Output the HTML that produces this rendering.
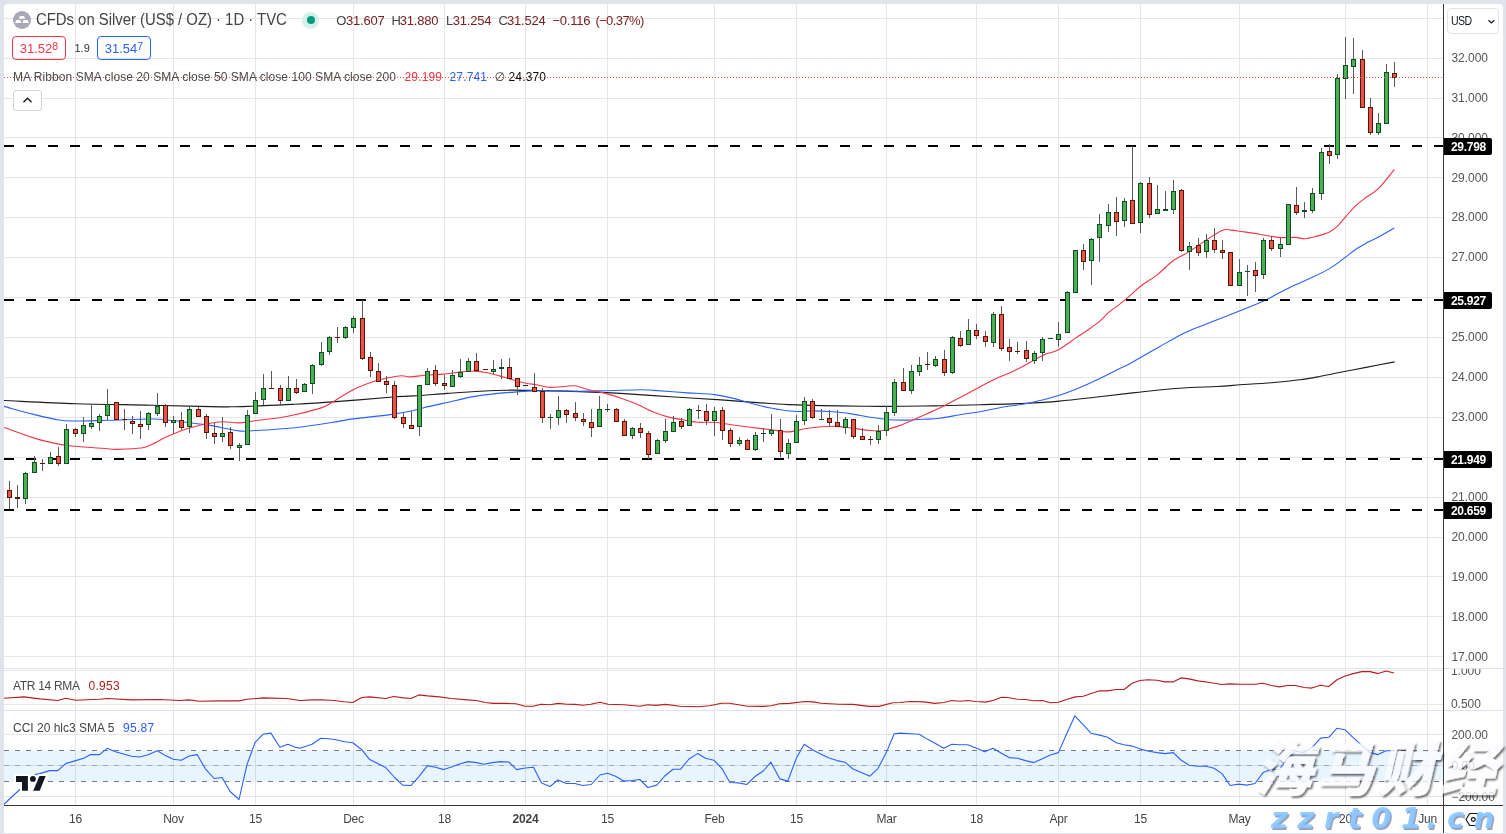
<!DOCTYPE html>
<html lang="en">
<head>
<meta charset="utf-8">
<title>CFDs on Silver (US$ / OZ) · 1D · TVC</title>
<style>
html,body{margin:0;padding:0;}
body{width:1506px;height:834px;background:#e0e3eb;position:relative;overflow:hidden;font-family:"Liberation Sans","DejaVu Sans",sans-serif;color:#333;}
#panel{position:absolute;left:4px;top:4px;width:1499px;height:829px;background:#fff;border-radius:4px 4px 0 0;}
#chart{position:absolute;left:0;top:0;width:1506px;height:834px;}
.t{position:absolute;white-space:nowrap;line-height:1;color:#444;}
.ax{position:absolute;left:1451.5px;font-size:12px;color:#555;white-space:nowrap;line-height:12px;letter-spacing:-0.05px;}
.lv{position:absolute;left:1444px;width:48px;height:17px;background:#000;color:#fff;font-weight:bold;font-size:12px;line-height:18.6px;border-radius:0 2px 2px 0;overflow:hidden;box-sizing:border-box;padding-left:7px;letter-spacing:-0.3px;white-space:nowrap;}
.tm{position:absolute;top:812px;font-size:12px;color:#444;white-space:nowrap;line-height:14px;transform:translateX(-50%);letter-spacing:-0.2px;}
.box{position:absolute;top:36px;height:24px;box-sizing:border-box;border:1px solid;border-radius:4px;font-size:13px;line-height:24px;text-align:center;white-space:nowrap;}
.box sup{font-size:10.5px;vertical-align:3.5px;line-height:0;}
.v{color:#7a2020 !important;}
</style>
</head>
<body>
<div id="panel"></div>
<svg id="chart" width="1506" height="834" viewBox="0 0 1506 834" shape-rendering="auto">
<rect x="4" y="656" width="1439" height="1" fill="#e6e6e6"/>
<rect x="4" y="616" width="1439" height="1" fill="#e6e6e6"/>
<rect x="4" y="576" width="1439" height="1" fill="#e6e6e6"/>
<rect x="4" y="537" width="1439" height="1" fill="#e6e6e6"/>
<rect x="4" y="497" width="1439" height="1" fill="#e6e6e6"/>
<rect x="4" y="457" width="1439" height="1" fill="#e6e6e6"/>
<rect x="4" y="417" width="1439" height="1" fill="#e6e6e6"/>
<rect x="4" y="377" width="1439" height="1" fill="#e6e6e6"/>
<rect x="4" y="337" width="1439" height="1" fill="#e6e6e6"/>
<rect x="4" y="297" width="1439" height="1" fill="#e6e6e6"/>
<rect x="4" y="257" width="1439" height="1" fill="#e6e6e6"/>
<rect x="4" y="217" width="1439" height="1" fill="#e6e6e6"/>
<rect x="4" y="177" width="1439" height="1" fill="#e6e6e6"/>
<rect x="4" y="137" width="1439" height="1" fill="#e6e6e6"/>
<rect x="4" y="98" width="1439" height="1" fill="#e6e6e6"/>
<rect x="4" y="58" width="1439" height="1" fill="#e6e6e6"/>
<rect x="4" y="18" width="1439" height="1" fill="#e6e6e6"/>
<rect x="4" y="670" width="1439" height="1" fill="#e6e6e6"/>
<rect x="4" y="704" width="1439" height="1" fill="#e6e6e6"/>
<rect x="4" y="734" width="1439" height="1" fill="#e6e6e6"/>
<rect x="4" y="765" width="1439" height="1" fill="#e6e6e6"/>
<rect x="4" y="796" width="1439" height="1" fill="#e6e6e6"/>
<rect x="75" y="4" width="1" height="801" fill="#e6e6e6"/>
<rect x="173" y="4" width="1" height="801" fill="#e6e6e6"/>
<rect x="255" y="4" width="1" height="801" fill="#e6e6e6"/>
<rect x="353" y="4" width="1" height="801" fill="#e6e6e6"/>
<rect x="444" y="4" width="1" height="801" fill="#e6e6e6"/>
<rect x="525" y="4" width="1" height="801" fill="#e6e6e6"/>
<rect x="607" y="4" width="1" height="801" fill="#e6e6e6"/>
<rect x="714" y="4" width="1" height="801" fill="#e6e6e6"/>
<rect x="796" y="4" width="1" height="801" fill="#e6e6e6"/>
<rect x="886" y="4" width="1" height="801" fill="#e6e6e6"/>
<rect x="976" y="4" width="1" height="801" fill="#e6e6e6"/>
<rect x="1058" y="4" width="1" height="801" fill="#e6e6e6"/>
<rect x="1140" y="4" width="1" height="801" fill="#e6e6e6"/>
<rect x="1239" y="4" width="1" height="801" fill="#e6e6e6"/>
<rect x="1345" y="4" width="1" height="801" fill="#e6e6e6"/>
<rect x="1427" y="4" width="1" height="801" fill="#e6e6e6"/>
<rect x="4" y="668" width="1499" height="1" fill="#dfe2ec"/>
<rect x="4" y="710" width="1499" height="1" fill="#dfe2ec"/>
<rect x="4" y="750.5" width="1439" height="31" fill="#2196f3" fill-opacity="0.1"/>
<line x1="4" y1="750.5" x2="1443" y2="750.5" stroke="#787b86" stroke-opacity="1" stroke-width="1" stroke-dasharray="5 6"/>
<line x1="4" y1="765.5" x2="1443" y2="765.5" stroke="#787b86" stroke-opacity="0.55" stroke-width="1" stroke-dasharray="5 6"/>
<line x1="4" y1="781.5" x2="1443" y2="781.5" stroke="#787b86" stroke-opacity="1" stroke-width="1" stroke-dasharray="5 6"/>
<path d="M4.0 400.5C16.0 401.0 51.0 402.9 75.6 403.7C100.1 404.5 130.4 404.7 151.1 405.2C171.8 405.6 186.6 406.1 199.8 406.4C213.1 406.6 221.5 406.9 230.8 406.8C240.0 406.8 245.0 406.4 255.2 406.0C265.4 405.6 279.0 405.1 291.9 404.4C304.8 403.7 316.4 403.1 332.7 401.9C349.1 400.7 376.5 398.3 390.0 397.2C403.5 396.2 404.1 396.6 413.6 395.9C423.1 395.3 436.0 394.2 447.2 393.4C458.4 392.6 470.7 391.7 480.8 391.2C490.8 390.7 499.2 390.3 507.6 390.2C516.0 390.1 519.1 390.2 531.1 390.4C543.2 390.6 565.1 391.0 580.0 391.6C594.9 392.1 605.3 392.5 620.4 393.4C635.5 394.3 654.0 395.7 670.8 396.8C687.5 397.9 704.6 398.8 721.1 399.9C737.7 401.1 758.8 402.7 770.0 403.5C781.2 404.2 780.0 404.2 788.5 404.6C797.1 404.9 808.9 405.3 821.2 405.6C833.4 405.9 851.1 406.1 861.9 406.2C872.8 406.4 876.2 406.5 886.4 406.4C896.6 406.4 914.2 406.1 923.1 406.0C932.0 405.9 930.5 405.9 940.0 405.7C949.5 405.5 965.6 405.1 979.8 404.7C994.1 404.3 1012.4 403.9 1025.7 403.3C1038.9 402.7 1047.2 402.2 1059.5 401.1C1071.8 400.0 1086.1 398.2 1099.4 396.7C1112.6 395.2 1125.9 393.6 1139.2 392.2C1152.5 390.7 1166.1 389.1 1179.0 388.2C1191.9 387.2 1206.5 387.0 1216.6 386.5C1226.7 385.9 1230.7 385.5 1239.8 384.8C1249.0 384.2 1261.4 383.5 1271.4 382.7C1281.3 381.8 1291.6 380.9 1299.6 379.8C1307.6 378.8 1312.1 377.9 1319.5 376.5C1327.0 375.1 1336.7 373.1 1344.4 371.5C1352.2 370.0 1357.6 369.0 1366.0 367.4C1374.4 365.8 1389.8 362.8 1394.6 361.9" fill="none" stroke="#1c1c1c" stroke-width="1.15"/>
<path d="M4.0 406.4C9.0 407.7 24.5 412.2 33.6 414.4C42.7 416.7 51.8 418.9 58.8 420.0C65.8 421.1 67.5 420.9 75.6 421.0C83.7 421.0 94.9 420.6 107.5 420.3C120.1 420.0 141.1 419.0 151.1 419.0C161.2 418.9 159.8 419.1 167.9 420.0C176.0 420.8 192.8 423.1 199.8 424.0C206.9 424.9 203.9 424.2 210.4 425.4C216.9 426.5 231.5 430.0 238.9 430.9C246.4 431.7 246.4 431.0 255.2 430.5C264.1 430.0 279.0 429.4 291.9 428.0C304.8 426.7 322.5 423.9 332.7 422.3C342.9 420.8 343.6 420.1 353.1 418.9C362.6 417.6 379.9 416.0 390.0 414.6C400.1 413.2 408.0 411.7 413.6 410.5C419.2 409.4 418.1 409.0 423.7 407.7C429.3 406.3 439.3 404.2 447.2 402.5C455.0 400.7 462.3 398.6 470.7 397.1C479.1 395.6 490.3 394.2 497.5 393.4C504.8 392.6 508.7 392.5 514.3 392.1C519.9 391.6 525.5 391.1 531.1 390.9C536.7 390.7 539.8 390.8 547.9 390.9C556.1 390.9 570.7 391.2 580.0 391.2C589.3 391.2 593.5 391.0 603.6 390.7C613.7 390.5 632.1 389.8 640.5 389.7C648.9 389.7 646.1 389.8 654.0 390.4C661.8 390.9 677.5 392.2 687.5 392.9C697.6 393.6 707.1 393.7 714.4 394.6C721.7 395.4 725.6 396.6 731.2 397.9C736.8 399.2 743.0 401.1 748.0 402.5C753.0 403.8 756.0 404.8 761.4 406.0C766.8 407.2 774.5 408.8 780.4 409.7C786.3 410.6 791.3 411.3 796.7 411.5C802.1 411.7 807.6 410.9 813.0 410.9C818.4 410.9 823.2 411.1 829.3 411.5C835.4 412.0 842.9 412.6 849.7 413.6C856.5 414.5 863.3 416.2 870.1 417.2C876.9 418.2 884.4 419.2 890.5 419.7C896.6 420.1 901.4 420.1 906.8 420.1C912.2 420.0 917.6 419.6 923.1 419.3C928.6 419.0 933.9 419.0 940.0 418.2C946.1 417.5 953.3 415.8 959.9 414.7C966.6 413.6 973.2 412.8 979.8 411.7C986.5 410.5 992.1 409.0 999.8 407.7C1007.4 406.4 1018.4 405.0 1025.7 403.7C1033.0 402.4 1037.9 401.1 1043.6 399.7C1049.2 398.3 1053.5 397.3 1059.5 395.3C1065.5 393.3 1072.8 390.5 1079.4 387.8C1086.1 385.0 1092.7 382.0 1099.4 378.8C1106.0 375.7 1114.0 371.5 1119.3 368.8C1124.6 366.2 1124.6 366.5 1131.2 362.9C1137.9 359.2 1151.8 351.1 1159.1 346.9C1166.4 342.8 1169.7 340.8 1175.1 338.0C1180.4 335.1 1179.8 334.7 1191.0 330.0C1202.2 325.3 1230.0 314.9 1242.1 310.0C1254.2 305.2 1257.2 304.0 1263.5 301.1C1269.8 298.1 1275.5 294.8 1280.0 292.5C1284.5 290.2 1285.6 289.4 1290.8 287.0C1296.0 284.5 1304.7 280.9 1311.2 277.8C1317.6 274.8 1324.1 271.9 1329.5 268.6C1334.9 265.4 1339.4 261.7 1343.8 258.4C1348.2 255.2 1351.9 252.0 1356.0 249.3C1360.1 246.5 1364.5 244.2 1368.2 242.1C1372.0 240.1 1374.1 239.4 1378.4 237.0C1382.8 234.7 1391.7 229.4 1394.3 227.9" fill="none" stroke="#2962ff" stroke-width="1.1"/>
<path d="M4.0 427.5C9.0 429.3 24.5 435.2 33.6 437.9C42.7 440.7 51.8 442.7 58.8 444.1C65.8 445.5 67.5 445.5 75.6 446.3C83.7 447.1 100.5 448.3 107.5 448.8C114.5 449.4 112.0 449.5 117.5 449.4C123.1 449.2 135.5 448.8 141.1 448.0C146.7 447.2 146.7 446.6 151.1 444.7C155.6 442.7 162.3 438.8 167.9 436.3C173.5 433.7 179.4 431.4 184.7 429.5C190.0 427.7 195.6 426.4 199.8 425.3C204.1 424.3 206.6 423.9 210.4 423.3C214.2 422.7 217.9 421.8 222.6 421.7C227.4 421.6 233.5 423.1 238.9 422.9C244.4 422.8 247.1 421.8 255.2 420.7C263.4 419.6 277.0 418.3 287.9 416.2C298.7 414.1 313.0 410.4 320.5 408.1C328.0 405.7 327.3 405.0 332.7 401.9C338.1 398.9 346.3 393.1 353.1 389.7C359.9 386.3 367.3 383.6 373.5 381.5C379.6 379.5 385.3 378.4 390.0 377.5C394.7 376.5 398.5 375.9 401.8 375.8C405.2 375.7 406.3 377.0 410.2 376.9C414.1 376.9 419.7 375.7 425.3 375.3C430.9 374.8 437.9 374.6 443.8 374.1C449.7 373.5 455.6 372.4 460.6 371.9C465.6 371.4 469.6 370.9 474.0 371.1C478.5 371.2 482.4 371.7 487.5 372.7C492.5 373.8 499.8 376.0 504.3 377.3C508.7 378.5 510.7 379.3 514.3 380.3C518.0 381.3 522.2 382.4 526.1 383.2C530.0 383.9 533.9 384.3 537.9 385.0C541.8 385.7 545.1 387.1 549.6 387.4C554.1 387.6 560.5 386.8 564.7 386.5C568.9 386.3 571.1 385.4 574.8 385.8C578.5 386.3 582.0 388.0 586.8 389.2C591.6 390.4 598.0 391.4 603.6 392.9C609.2 394.4 614.8 396.0 620.4 397.9C626.0 399.8 631.6 401.9 637.2 404.3C642.8 406.7 648.4 410.0 654.0 412.2C659.6 414.4 665.2 416.2 670.8 417.6C676.4 419.0 683.1 419.8 687.5 420.6C692.0 421.4 693.1 422.0 697.6 422.3C702.1 422.6 708.8 421.9 714.4 422.3C720.0 422.7 725.6 424.0 731.2 424.8C736.8 425.6 741.5 426.2 748.0 427.0C754.5 427.8 763.2 428.7 770.0 429.5C776.8 430.3 782.7 432.0 788.5 431.9C794.4 431.8 799.4 429.7 804.9 428.8C810.3 428.0 815.7 427.2 821.2 426.8C826.6 426.4 832.0 426.1 837.5 426.4C842.9 426.7 848.3 427.8 853.8 428.4C859.2 429.1 865.3 430.1 870.1 430.5C874.8 430.8 878.9 430.8 882.3 430.5C885.7 430.1 887.1 429.5 890.5 428.4C893.9 427.4 898.0 426.2 902.7 424.4C907.5 422.5 913.6 419.6 919.0 417.2C924.5 414.8 930.6 412.3 935.3 410.1C940.1 407.9 943.5 406.1 947.6 404.0C951.7 401.9 952.4 401.4 960.0 397.5C967.6 393.5 984.9 384.1 993.2 380.0C1001.4 375.9 1004.0 375.5 1009.4 373.0C1014.7 370.5 1019.8 367.9 1025.5 364.9C1031.2 361.9 1038.1 357.5 1043.5 355.0C1048.9 352.5 1052.5 353.0 1057.9 350.1C1063.3 347.3 1071.1 341.2 1075.9 337.9C1080.7 334.7 1082.8 333.4 1086.7 330.7C1090.6 328.0 1095.7 324.7 1099.3 321.7C1102.9 318.7 1105.0 315.6 1108.3 312.7C1111.6 309.9 1115.4 307.5 1119.1 304.6C1122.7 301.8 1126.4 298.8 1130.0 295.6C1133.7 292.5 1136.6 289.3 1141.2 285.8C1145.7 282.3 1152.0 278.8 1157.5 274.6C1162.9 270.3 1168.3 264.2 1173.8 260.3C1179.2 256.4 1184.7 254.5 1190.1 251.1C1195.5 247.7 1201.0 243.4 1206.4 239.9C1211.8 236.4 1218.6 231.9 1222.7 230.3C1226.8 228.7 1227.5 229.9 1230.9 230.1C1234.3 230.3 1238.3 231.1 1243.1 231.7C1247.9 232.4 1253.5 233.2 1259.4 234.2C1265.3 235.1 1272.6 236.9 1278.5 237.4C1284.4 238.0 1290.4 237.2 1294.9 237.4C1299.3 237.6 1301.6 238.8 1305.0 238.7C1308.4 238.5 1311.2 237.7 1315.2 236.6C1319.3 235.5 1325.8 233.7 1329.5 231.9C1333.2 230.1 1334.9 228.4 1337.7 225.8C1340.4 223.3 1342.8 220.0 1345.8 216.6C1348.9 213.2 1352.6 208.7 1356.0 205.4C1359.4 202.2 1362.5 200.1 1366.2 197.3C1369.9 194.5 1373.8 193.4 1378.4 188.7C1383.1 184.1 1391.7 172.6 1394.3 169.3" fill="none" stroke="#f23645" stroke-width="1.1"/>
<line x1="4" y1="146" x2="1443" y2="146" stroke="#000" stroke-width="2" stroke-dasharray="10 12"/>
<line x1="4" y1="300" x2="1443" y2="300" stroke="#000" stroke-width="2" stroke-dasharray="10 12"/>
<line x1="4" y1="459" x2="1443" y2="459" stroke="#000" stroke-width="2" stroke-dasharray="10 12"/>
<line x1="4" y1="510" x2="1443" y2="510" stroke="#000" stroke-width="2" stroke-dasharray="10 12"/>
<rect x="9" y="481" width="1" height="28" fill="#5a5a5a"/>
<rect x="7" y="490" width="5" height="8" fill="#5a1409"/>
<rect x="8" y="491" width="3" height="6" fill="#e45545"/>
<rect x="17" y="485" width="1" height="23" fill="#5a5a5a"/>
<rect x="15" y="497" width="5" height="2" fill="#5a1409"/>
<rect x="25" y="472" width="1" height="32" fill="#5a5a5a"/>
<rect x="23" y="473" width="5" height="26" fill="#0f4d27"/>
<rect x="24" y="474" width="3" height="24" fill="#4caf50"/>
<rect x="34" y="456" width="1" height="17" fill="#5a5a5a"/>
<rect x="32" y="462" width="5" height="11" fill="#0f4d27"/>
<rect x="33" y="463" width="3" height="9" fill="#4caf50"/>
<rect x="42" y="459" width="1" height="12" fill="#5a5a5a"/>
<rect x="40" y="463" width="5" height="1" fill="#5a1409"/>
<rect x="50" y="452" width="1" height="12" fill="#5a5a5a"/>
<rect x="48" y="457" width="5" height="7" fill="#0f4d27"/>
<rect x="49" y="458" width="3" height="5" fill="#4caf50"/>
<rect x="58" y="447" width="1" height="19" fill="#5a5a5a"/>
<rect x="56" y="456" width="5" height="8" fill="#5a1409"/>
<rect x="57" y="457" width="3" height="6" fill="#e45545"/>
<rect x="66" y="424" width="1" height="40" fill="#5a5a5a"/>
<rect x="64" y="429" width="5" height="35" fill="#0f4d27"/>
<rect x="65" y="430" width="3" height="33" fill="#4caf50"/>
<rect x="75" y="428" width="1" height="9" fill="#5a5a5a"/>
<rect x="73" y="429" width="5" height="5" fill="#5a1409"/>
<rect x="74" y="430" width="3" height="3" fill="#e45545"/>
<rect x="83" y="417" width="1" height="25" fill="#5a5a5a"/>
<rect x="81" y="425" width="5" height="9" fill="#0f4d27"/>
<rect x="82" y="426" width="3" height="7" fill="#4caf50"/>
<rect x="91" y="405" width="1" height="24" fill="#5a5a5a"/>
<rect x="89" y="423" width="5" height="4" fill="#0f4d27"/>
<rect x="90" y="424" width="3" height="2" fill="#4caf50"/>
<rect x="99" y="414" width="1" height="17" fill="#5a5a5a"/>
<rect x="97" y="416" width="5" height="7" fill="#0f4d27"/>
<rect x="98" y="417" width="3" height="5" fill="#4caf50"/>
<rect x="107" y="389" width="1" height="31" fill="#5a5a5a"/>
<rect x="105" y="404" width="5" height="12" fill="#0f4d27"/>
<rect x="106" y="405" width="3" height="10" fill="#4caf50"/>
<rect x="116" y="402" width="1" height="18" fill="#5a5a5a"/>
<rect x="114" y="402" width="5" height="18" fill="#5a1409"/>
<rect x="115" y="403" width="3" height="16" fill="#e45545"/>
<rect x="124" y="409" width="1" height="21" fill="#5a5a5a"/>
<rect x="122" y="419" width="5" height="1" fill="#5a1409"/>
<rect x="132" y="416" width="1" height="18" fill="#5a5a5a"/>
<rect x="130" y="421" width="5" height="3" fill="#5a1409"/>
<rect x="131" y="422" width="3" height="1" fill="#e45545"/>
<rect x="140" y="411" width="1" height="28" fill="#5a5a5a"/>
<rect x="138" y="424" width="5" height="3" fill="#5a1409"/>
<rect x="139" y="425" width="3" height="1" fill="#e45545"/>
<rect x="148" y="412" width="1" height="18" fill="#5a5a5a"/>
<rect x="146" y="413" width="5" height="12" fill="#0f4d27"/>
<rect x="147" y="414" width="3" height="10" fill="#4caf50"/>
<rect x="157" y="393" width="1" height="23" fill="#5a5a5a"/>
<rect x="155" y="406" width="5" height="8" fill="#0f4d27"/>
<rect x="156" y="407" width="3" height="6" fill="#4caf50"/>
<rect x="165" y="404" width="1" height="23" fill="#5a5a5a"/>
<rect x="163" y="405" width="5" height="18" fill="#5a1409"/>
<rect x="164" y="406" width="3" height="16" fill="#e45545"/>
<rect x="173" y="416" width="1" height="18" fill="#5a5a5a"/>
<rect x="171" y="420" width="5" height="3" fill="#0f4d27"/>
<rect x="172" y="421" width="3" height="1" fill="#4caf50"/>
<rect x="181" y="412" width="1" height="18" fill="#5a5a5a"/>
<rect x="179" y="420" width="5" height="8" fill="#5a1409"/>
<rect x="180" y="421" width="3" height="6" fill="#e45545"/>
<rect x="189" y="407" width="1" height="26" fill="#5a5a5a"/>
<rect x="187" y="409" width="5" height="18" fill="#0f4d27"/>
<rect x="188" y="410" width="3" height="16" fill="#4caf50"/>
<rect x="198" y="407" width="1" height="10" fill="#5a5a5a"/>
<rect x="196" y="409" width="5" height="8" fill="#5a1409"/>
<rect x="197" y="410" width="3" height="6" fill="#e45545"/>
<rect x="206" y="414" width="1" height="25" fill="#5a5a5a"/>
<rect x="204" y="416" width="5" height="17" fill="#5a1409"/>
<rect x="205" y="417" width="3" height="15" fill="#e45545"/>
<rect x="214" y="423" width="1" height="21" fill="#5a5a5a"/>
<rect x="212" y="433" width="5" height="4" fill="#5a1409"/>
<rect x="213" y="434" width="3" height="2" fill="#e45545"/>
<rect x="222" y="417" width="1" height="25" fill="#5a5a5a"/>
<rect x="220" y="433" width="5" height="4" fill="#0f4d27"/>
<rect x="221" y="434" width="3" height="2" fill="#4caf50"/>
<rect x="230" y="427" width="1" height="22" fill="#5a5a5a"/>
<rect x="228" y="432" width="5" height="14" fill="#5a1409"/>
<rect x="229" y="433" width="3" height="12" fill="#e45545"/>
<rect x="239" y="443" width="1" height="18" fill="#5a5a5a"/>
<rect x="237" y="445" width="5" height="3" fill="#0f4d27"/>
<rect x="238" y="446" width="3" height="1" fill="#4caf50"/>
<rect x="247" y="410" width="1" height="35" fill="#5a5a5a"/>
<rect x="245" y="415" width="5" height="30" fill="#0f4d27"/>
<rect x="246" y="416" width="3" height="28" fill="#4caf50"/>
<rect x="255" y="392" width="1" height="22" fill="#5a5a5a"/>
<rect x="253" y="400" width="5" height="14" fill="#0f4d27"/>
<rect x="254" y="401" width="3" height="12" fill="#4caf50"/>
<rect x="263" y="374" width="1" height="31" fill="#5a5a5a"/>
<rect x="261" y="388" width="5" height="12" fill="#0f4d27"/>
<rect x="262" y="389" width="3" height="10" fill="#4caf50"/>
<rect x="271" y="371" width="1" height="18" fill="#5a5a5a"/>
<rect x="269" y="388" width="5" height="1" fill="#5a1409"/>
<rect x="280" y="385" width="1" height="21" fill="#5a5a5a"/>
<rect x="278" y="388" width="5" height="13" fill="#5a1409"/>
<rect x="279" y="389" width="3" height="11" fill="#e45545"/>
<rect x="288" y="376" width="1" height="25" fill="#5a5a5a"/>
<rect x="286" y="388" width="5" height="13" fill="#0f4d27"/>
<rect x="287" y="389" width="3" height="11" fill="#4caf50"/>
<rect x="296" y="379" width="1" height="15" fill="#5a5a5a"/>
<rect x="294" y="388" width="5" height="5" fill="#5a1409"/>
<rect x="295" y="389" width="3" height="3" fill="#e45545"/>
<rect x="304" y="383" width="1" height="9" fill="#5a5a5a"/>
<rect x="302" y="384" width="5" height="8" fill="#0f4d27"/>
<rect x="303" y="385" width="3" height="6" fill="#4caf50"/>
<rect x="312" y="364" width="1" height="30" fill="#5a5a5a"/>
<rect x="310" y="365" width="5" height="19" fill="#0f4d27"/>
<rect x="311" y="366" width="3" height="17" fill="#4caf50"/>
<rect x="321" y="342" width="1" height="24" fill="#5a5a5a"/>
<rect x="319" y="352" width="5" height="13" fill="#0f4d27"/>
<rect x="320" y="353" width="3" height="11" fill="#4caf50"/>
<rect x="329" y="336" width="1" height="19" fill="#5a5a5a"/>
<rect x="327" y="337" width="5" height="15" fill="#0f4d27"/>
<rect x="328" y="338" width="3" height="13" fill="#4caf50"/>
<rect x="337" y="327" width="1" height="16" fill="#5a5a5a"/>
<rect x="335" y="337" width="5" height="1" fill="#5a1409"/>
<rect x="345" y="326" width="1" height="13" fill="#5a5a5a"/>
<rect x="343" y="327" width="5" height="11" fill="#0f4d27"/>
<rect x="344" y="328" width="3" height="9" fill="#4caf50"/>
<rect x="353" y="316" width="1" height="17" fill="#5a5a5a"/>
<rect x="351" y="318" width="5" height="10" fill="#0f4d27"/>
<rect x="352" y="319" width="3" height="8" fill="#4caf50"/>
<rect x="362" y="300" width="1" height="60" fill="#5a5a5a"/>
<rect x="360" y="318" width="5" height="41" fill="#5a1409"/>
<rect x="361" y="319" width="3" height="39" fill="#e45545"/>
<rect x="370" y="352" width="1" height="25" fill="#5a5a5a"/>
<rect x="368" y="357" width="5" height="14" fill="#5a1409"/>
<rect x="369" y="358" width="3" height="12" fill="#e45545"/>
<rect x="378" y="363" width="1" height="19" fill="#5a5a5a"/>
<rect x="376" y="371" width="5" height="11" fill="#5a1409"/>
<rect x="377" y="372" width="3" height="9" fill="#e45545"/>
<rect x="386" y="376" width="1" height="17" fill="#5a5a5a"/>
<rect x="384" y="381" width="5" height="4" fill="#5a1409"/>
<rect x="385" y="382" width="3" height="2" fill="#e45545"/>
<rect x="394" y="381" width="1" height="38" fill="#5a5a5a"/>
<rect x="392" y="385" width="5" height="33" fill="#5a1409"/>
<rect x="393" y="386" width="3" height="31" fill="#e45545"/>
<rect x="403" y="413" width="1" height="15" fill="#5a5a5a"/>
<rect x="401" y="417" width="5" height="7" fill="#5a1409"/>
<rect x="402" y="418" width="3" height="5" fill="#e45545"/>
<rect x="411" y="411" width="1" height="18" fill="#5a5a5a"/>
<rect x="409" y="425" width="5" height="4" fill="#5a1409"/>
<rect x="410" y="426" width="3" height="2" fill="#e45545"/>
<rect x="419" y="385" width="1" height="51" fill="#5a5a5a"/>
<rect x="417" y="385" width="5" height="42" fill="#0f4d27"/>
<rect x="418" y="386" width="3" height="40" fill="#4caf50"/>
<rect x="427" y="368" width="1" height="17" fill="#5a5a5a"/>
<rect x="425" y="371" width="5" height="14" fill="#0f4d27"/>
<rect x="426" y="372" width="3" height="12" fill="#4caf50"/>
<rect x="435" y="365" width="1" height="21" fill="#5a5a5a"/>
<rect x="433" y="370" width="5" height="14" fill="#5a1409"/>
<rect x="434" y="371" width="3" height="12" fill="#e45545"/>
<rect x="444" y="375" width="1" height="15" fill="#5a5a5a"/>
<rect x="442" y="383" width="5" height="3" fill="#5a1409"/>
<rect x="443" y="384" width="3" height="1" fill="#e45545"/>
<rect x="452" y="370" width="1" height="17" fill="#5a5a5a"/>
<rect x="450" y="375" width="5" height="12" fill="#0f4d27"/>
<rect x="451" y="376" width="3" height="10" fill="#4caf50"/>
<rect x="460" y="359" width="1" height="19" fill="#5a5a5a"/>
<rect x="458" y="372" width="5" height="5" fill="#0f4d27"/>
<rect x="459" y="373" width="3" height="3" fill="#4caf50"/>
<rect x="468" y="358" width="1" height="14" fill="#5a5a5a"/>
<rect x="466" y="361" width="5" height="11" fill="#0f4d27"/>
<rect x="467" y="362" width="3" height="9" fill="#4caf50"/>
<rect x="476" y="353" width="1" height="19" fill="#5a5a5a"/>
<rect x="474" y="361" width="5" height="10" fill="#5a1409"/>
<rect x="475" y="362" width="3" height="8" fill="#e45545"/>
<rect x="485" y="369" width="1" height="1" fill="#5a5a5a"/>
<rect x="483" y="369" width="5" height="1" fill="#5a1409"/>
<rect x="493" y="360" width="1" height="14" fill="#5a5a5a"/>
<rect x="491" y="369" width="5" height="3" fill="#0f4d27"/>
<rect x="492" y="370" width="3" height="1" fill="#4caf50"/>
<rect x="501" y="359" width="1" height="20" fill="#5a5a5a"/>
<rect x="499" y="367" width="5" height="2" fill="#0f4d27"/>
<rect x="509" y="358" width="1" height="21" fill="#5a5a5a"/>
<rect x="507" y="367" width="5" height="12" fill="#5a1409"/>
<rect x="508" y="368" width="3" height="10" fill="#e45545"/>
<rect x="517" y="378" width="1" height="17" fill="#5a5a5a"/>
<rect x="515" y="378" width="5" height="9" fill="#5a1409"/>
<rect x="516" y="379" width="3" height="7" fill="#e45545"/>
<rect x="525" y="385" width="1" height="1" fill="#5a5a5a"/>
<rect x="523" y="385" width="5" height="1" fill="#5a1409"/>
<rect x="534" y="373" width="1" height="19" fill="#5a5a5a"/>
<rect x="532" y="387" width="5" height="5" fill="#5a1409"/>
<rect x="533" y="388" width="3" height="3" fill="#e45545"/>
<rect x="542" y="388" width="1" height="35" fill="#5a5a5a"/>
<rect x="540" y="391" width="5" height="27" fill="#5a1409"/>
<rect x="541" y="392" width="3" height="25" fill="#e45545"/>
<rect x="550" y="414" width="1" height="15" fill="#5a5a5a"/>
<rect x="548" y="417" width="5" height="1" fill="#0f4d27"/>
<rect x="558" y="396" width="1" height="29" fill="#5a5a5a"/>
<rect x="556" y="410" width="5" height="8" fill="#0f4d27"/>
<rect x="557" y="411" width="3" height="6" fill="#4caf50"/>
<rect x="566" y="409" width="1" height="14" fill="#5a5a5a"/>
<rect x="564" y="410" width="5" height="5" fill="#5a1409"/>
<rect x="565" y="411" width="3" height="3" fill="#e45545"/>
<rect x="575" y="402" width="1" height="19" fill="#5a5a5a"/>
<rect x="573" y="413" width="5" height="5" fill="#5a1409"/>
<rect x="574" y="414" width="3" height="3" fill="#e45545"/>
<rect x="583" y="413" width="1" height="13" fill="#5a5a5a"/>
<rect x="581" y="419" width="5" height="3" fill="#5a1409"/>
<rect x="582" y="420" width="3" height="1" fill="#e45545"/>
<rect x="591" y="409" width="1" height="28" fill="#5a5a5a"/>
<rect x="589" y="422" width="5" height="6" fill="#5a1409"/>
<rect x="590" y="423" width="3" height="4" fill="#e45545"/>
<rect x="599" y="396" width="1" height="31" fill="#5a5a5a"/>
<rect x="597" y="409" width="5" height="18" fill="#0f4d27"/>
<rect x="598" y="410" width="3" height="16" fill="#4caf50"/>
<rect x="607" y="404" width="1" height="8" fill="#5a5a5a"/>
<rect x="605" y="409" width="5" height="1" fill="#0f4d27"/>
<rect x="616" y="408" width="1" height="14" fill="#5a5a5a"/>
<rect x="614" y="409" width="5" height="13" fill="#5a1409"/>
<rect x="615" y="410" width="3" height="11" fill="#e45545"/>
<rect x="624" y="419" width="1" height="17" fill="#5a5a5a"/>
<rect x="622" y="421" width="5" height="15" fill="#5a1409"/>
<rect x="623" y="422" width="3" height="13" fill="#e45545"/>
<rect x="632" y="427" width="1" height="12" fill="#5a5a5a"/>
<rect x="630" y="428" width="5" height="8" fill="#0f4d27"/>
<rect x="631" y="429" width="3" height="6" fill="#4caf50"/>
<rect x="640" y="423" width="1" height="15" fill="#5a5a5a"/>
<rect x="638" y="428" width="5" height="5" fill="#5a1409"/>
<rect x="639" y="429" width="3" height="3" fill="#e45545"/>
<rect x="648" y="431" width="1" height="28" fill="#5a5a5a"/>
<rect x="646" y="433" width="5" height="22" fill="#5a1409"/>
<rect x="647" y="434" width="3" height="20" fill="#e45545"/>
<rect x="657" y="439" width="1" height="15" fill="#5a5a5a"/>
<rect x="655" y="440" width="5" height="14" fill="#0f4d27"/>
<rect x="656" y="441" width="3" height="12" fill="#4caf50"/>
<rect x="665" y="419" width="1" height="24" fill="#5a5a5a"/>
<rect x="663" y="431" width="5" height="10" fill="#0f4d27"/>
<rect x="664" y="432" width="3" height="8" fill="#4caf50"/>
<rect x="673" y="416" width="1" height="16" fill="#5a5a5a"/>
<rect x="671" y="422" width="5" height="10" fill="#0f4d27"/>
<rect x="672" y="423" width="3" height="8" fill="#4caf50"/>
<rect x="681" y="418" width="1" height="11" fill="#5a5a5a"/>
<rect x="679" y="421" width="5" height="6" fill="#5a1409"/>
<rect x="680" y="422" width="3" height="4" fill="#e45545"/>
<rect x="689" y="408" width="1" height="18" fill="#5a5a5a"/>
<rect x="687" y="409" width="5" height="17" fill="#0f4d27"/>
<rect x="688" y="410" width="3" height="15" fill="#4caf50"/>
<rect x="698" y="405" width="1" height="14" fill="#5a5a5a"/>
<rect x="696" y="410" width="5" height="1" fill="#5a1409"/>
<rect x="706" y="404" width="1" height="21" fill="#5a5a5a"/>
<rect x="704" y="411" width="5" height="10" fill="#5a1409"/>
<rect x="705" y="412" width="3" height="8" fill="#e45545"/>
<rect x="714" y="407" width="1" height="29" fill="#5a5a5a"/>
<rect x="712" y="411" width="5" height="10" fill="#0f4d27"/>
<rect x="713" y="412" width="3" height="8" fill="#4caf50"/>
<rect x="722" y="407" width="1" height="33" fill="#5a5a5a"/>
<rect x="720" y="410" width="5" height="21" fill="#5a1409"/>
<rect x="721" y="411" width="3" height="19" fill="#e45545"/>
<rect x="730" y="428" width="1" height="19" fill="#5a5a5a"/>
<rect x="728" y="430" width="5" height="14" fill="#5a1409"/>
<rect x="729" y="431" width="3" height="12" fill="#e45545"/>
<rect x="739" y="437" width="1" height="9" fill="#5a5a5a"/>
<rect x="737" y="440" width="5" height="4" fill="#0f4d27"/>
<rect x="738" y="441" width="3" height="2" fill="#4caf50"/>
<rect x="747" y="439" width="1" height="11" fill="#5a5a5a"/>
<rect x="745" y="440" width="5" height="10" fill="#5a1409"/>
<rect x="746" y="441" width="3" height="8" fill="#e45545"/>
<rect x="755" y="432" width="1" height="19" fill="#5a5a5a"/>
<rect x="753" y="435" width="5" height="15" fill="#0f4d27"/>
<rect x="754" y="436" width="3" height="13" fill="#4caf50"/>
<rect x="763" y="428" width="1" height="14" fill="#5a5a5a"/>
<rect x="761" y="433" width="5" height="1" fill="#0f4d27"/>
<rect x="771" y="414" width="1" height="22" fill="#5a5a5a"/>
<rect x="769" y="430" width="5" height="4" fill="#0f4d27"/>
<rect x="770" y="431" width="3" height="2" fill="#4caf50"/>
<rect x="780" y="419" width="1" height="38" fill="#5a5a5a"/>
<rect x="778" y="430" width="5" height="22" fill="#5a1409"/>
<rect x="779" y="431" width="3" height="20" fill="#e45545"/>
<rect x="788" y="439" width="1" height="20" fill="#5a5a5a"/>
<rect x="786" y="443" width="5" height="11" fill="#0f4d27"/>
<rect x="787" y="444" width="3" height="9" fill="#4caf50"/>
<rect x="796" y="415" width="1" height="28" fill="#5a5a5a"/>
<rect x="794" y="421" width="5" height="22" fill="#0f4d27"/>
<rect x="795" y="422" width="3" height="20" fill="#4caf50"/>
<rect x="804" y="397" width="1" height="28" fill="#5a5a5a"/>
<rect x="802" y="401" width="5" height="20" fill="#0f4d27"/>
<rect x="803" y="402" width="3" height="18" fill="#4caf50"/>
<rect x="812" y="399" width="1" height="20" fill="#5a5a5a"/>
<rect x="810" y="401" width="5" height="17" fill="#5a1409"/>
<rect x="811" y="402" width="3" height="15" fill="#e45545"/>
<rect x="821" y="409" width="1" height="11" fill="#5a5a5a"/>
<rect x="819" y="419" width="5" height="1" fill="#0f4d27"/>
<rect x="829" y="410" width="1" height="16" fill="#5a5a5a"/>
<rect x="827" y="418" width="5" height="5" fill="#5a1409"/>
<rect x="828" y="419" width="3" height="3" fill="#e45545"/>
<rect x="837" y="410" width="1" height="17" fill="#5a5a5a"/>
<rect x="835" y="422" width="5" height="5" fill="#5a1409"/>
<rect x="836" y="423" width="3" height="3" fill="#e45545"/>
<rect x="845" y="417" width="1" height="17" fill="#5a5a5a"/>
<rect x="843" y="419" width="5" height="9" fill="#0f4d27"/>
<rect x="844" y="420" width="3" height="7" fill="#4caf50"/>
<rect x="853" y="419" width="1" height="20" fill="#5a5a5a"/>
<rect x="851" y="419" width="5" height="18" fill="#5a1409"/>
<rect x="852" y="420" width="3" height="16" fill="#e45545"/>
<rect x="862" y="428" width="1" height="12" fill="#5a5a5a"/>
<rect x="860" y="436" width="5" height="4" fill="#5a1409"/>
<rect x="861" y="437" width="3" height="2" fill="#e45545"/>
<rect x="870" y="436" width="1" height="9" fill="#5a5a5a"/>
<rect x="868" y="439" width="5" height="1" fill="#5a1409"/>
<rect x="878" y="425" width="1" height="19" fill="#5a5a5a"/>
<rect x="876" y="431" width="5" height="9" fill="#0f4d27"/>
<rect x="877" y="432" width="3" height="7" fill="#4caf50"/>
<rect x="886" y="406" width="1" height="30" fill="#5a5a5a"/>
<rect x="884" y="412" width="5" height="19" fill="#0f4d27"/>
<rect x="885" y="413" width="3" height="17" fill="#4caf50"/>
<rect x="894" y="379" width="1" height="37" fill="#5a5a5a"/>
<rect x="892" y="382" width="5" height="31" fill="#0f4d27"/>
<rect x="893" y="383" width="3" height="29" fill="#4caf50"/>
<rect x="903" y="368" width="1" height="23" fill="#5a5a5a"/>
<rect x="901" y="382" width="5" height="9" fill="#5a1409"/>
<rect x="902" y="383" width="3" height="7" fill="#e45545"/>
<rect x="911" y="365" width="1" height="29" fill="#5a5a5a"/>
<rect x="909" y="371" width="5" height="20" fill="#0f4d27"/>
<rect x="910" y="372" width="3" height="18" fill="#4caf50"/>
<rect x="919" y="357" width="1" height="19" fill="#5a5a5a"/>
<rect x="917" y="365" width="5" height="7" fill="#0f4d27"/>
<rect x="918" y="366" width="3" height="5" fill="#4caf50"/>
<rect x="927" y="352" width="1" height="18" fill="#5a5a5a"/>
<rect x="925" y="364" width="5" height="1" fill="#5a1409"/>
<rect x="935" y="356" width="1" height="11" fill="#5a5a5a"/>
<rect x="933" y="359" width="5" height="7" fill="#0f4d27"/>
<rect x="934" y="360" width="3" height="5" fill="#4caf50"/>
<rect x="944" y="350" width="1" height="26" fill="#5a5a5a"/>
<rect x="942" y="359" width="5" height="14" fill="#5a1409"/>
<rect x="943" y="360" width="3" height="12" fill="#e45545"/>
<rect x="952" y="336" width="1" height="38" fill="#5a5a5a"/>
<rect x="950" y="337" width="5" height="36" fill="#0f4d27"/>
<rect x="951" y="338" width="3" height="34" fill="#4caf50"/>
<rect x="960" y="331" width="1" height="16" fill="#5a5a5a"/>
<rect x="958" y="338" width="5" height="8" fill="#5a1409"/>
<rect x="959" y="339" width="3" height="6" fill="#e45545"/>
<rect x="968" y="319" width="1" height="26" fill="#5a5a5a"/>
<rect x="966" y="330" width="5" height="15" fill="#0f4d27"/>
<rect x="967" y="331" width="3" height="13" fill="#4caf50"/>
<rect x="976" y="324" width="1" height="15" fill="#5a5a5a"/>
<rect x="974" y="330" width="5" height="6" fill="#5a1409"/>
<rect x="975" y="331" width="3" height="4" fill="#e45545"/>
<rect x="985" y="331" width="1" height="16" fill="#5a5a5a"/>
<rect x="983" y="336" width="5" height="6" fill="#5a1409"/>
<rect x="984" y="337" width="3" height="4" fill="#e45545"/>
<rect x="993" y="312" width="1" height="35" fill="#5a5a5a"/>
<rect x="991" y="314" width="5" height="29" fill="#0f4d27"/>
<rect x="992" y="315" width="3" height="27" fill="#4caf50"/>
<rect x="1001" y="306" width="1" height="45" fill="#5a5a5a"/>
<rect x="999" y="314" width="5" height="35" fill="#5a1409"/>
<rect x="1000" y="315" width="3" height="33" fill="#e45545"/>
<rect x="1009" y="339" width="1" height="22" fill="#5a5a5a"/>
<rect x="1007" y="347" width="5" height="5" fill="#5a1409"/>
<rect x="1008" y="348" width="3" height="3" fill="#e45545"/>
<rect x="1017" y="342" width="1" height="12" fill="#5a5a5a"/>
<rect x="1015" y="351" width="5" height="1" fill="#5a1409"/>
<rect x="1026" y="341" width="1" height="21" fill="#5a5a5a"/>
<rect x="1024" y="350" width="5" height="9" fill="#5a1409"/>
<rect x="1025" y="351" width="3" height="7" fill="#e45545"/>
<rect x="1034" y="351" width="1" height="13" fill="#5a5a5a"/>
<rect x="1032" y="353" width="5" height="8" fill="#0f4d27"/>
<rect x="1033" y="354" width="3" height="6" fill="#4caf50"/>
<rect x="1042" y="337" width="1" height="24" fill="#5a5a5a"/>
<rect x="1040" y="339" width="5" height="14" fill="#0f4d27"/>
<rect x="1041" y="340" width="3" height="12" fill="#4caf50"/>
<rect x="1050" y="338" width="1" height="1" fill="#5a5a5a"/>
<rect x="1048" y="338" width="5" height="1" fill="#0f4d27"/>
<rect x="1058" y="322" width="1" height="25" fill="#5a5a5a"/>
<rect x="1056" y="334" width="5" height="6" fill="#0f4d27"/>
<rect x="1057" y="335" width="3" height="4" fill="#4caf50"/>
<rect x="1067" y="291" width="1" height="42" fill="#5a5a5a"/>
<rect x="1065" y="292" width="5" height="41" fill="#0f4d27"/>
<rect x="1066" y="293" width="3" height="39" fill="#4caf50"/>
<rect x="1075" y="250" width="1" height="43" fill="#5a5a5a"/>
<rect x="1073" y="250" width="5" height="43" fill="#0f4d27"/>
<rect x="1074" y="251" width="3" height="41" fill="#4caf50"/>
<rect x="1083" y="244" width="1" height="26" fill="#5a5a5a"/>
<rect x="1081" y="250" width="5" height="12" fill="#5a1409"/>
<rect x="1082" y="251" width="3" height="10" fill="#e45545"/>
<rect x="1091" y="238" width="1" height="47" fill="#5a5a5a"/>
<rect x="1089" y="239" width="5" height="22" fill="#0f4d27"/>
<rect x="1090" y="240" width="3" height="20" fill="#4caf50"/>
<rect x="1099" y="214" width="1" height="48" fill="#5a5a5a"/>
<rect x="1097" y="224" width="5" height="14" fill="#0f4d27"/>
<rect x="1098" y="225" width="3" height="12" fill="#4caf50"/>
<rect x="1108" y="204" width="1" height="28" fill="#5a5a5a"/>
<rect x="1106" y="212" width="5" height="14" fill="#0f4d27"/>
<rect x="1107" y="213" width="3" height="12" fill="#4caf50"/>
<rect x="1116" y="197" width="1" height="39" fill="#5a5a5a"/>
<rect x="1114" y="212" width="5" height="10" fill="#5a1409"/>
<rect x="1115" y="213" width="3" height="8" fill="#e45545"/>
<rect x="1124" y="198" width="1" height="29" fill="#5a5a5a"/>
<rect x="1122" y="201" width="5" height="20" fill="#0f4d27"/>
<rect x="1123" y="202" width="3" height="18" fill="#4caf50"/>
<rect x="1132" y="146" width="1" height="78" fill="#5a5a5a"/>
<rect x="1130" y="200" width="5" height="24" fill="#5a1409"/>
<rect x="1131" y="201" width="3" height="22" fill="#e45545"/>
<rect x="1140" y="182" width="1" height="51" fill="#5a5a5a"/>
<rect x="1138" y="183" width="5" height="40" fill="#0f4d27"/>
<rect x="1139" y="184" width="3" height="38" fill="#4caf50"/>
<rect x="1149" y="177" width="1" height="41" fill="#5a5a5a"/>
<rect x="1147" y="183" width="5" height="32" fill="#5a1409"/>
<rect x="1148" y="184" width="3" height="30" fill="#e45545"/>
<rect x="1157" y="185" width="1" height="29" fill="#5a5a5a"/>
<rect x="1155" y="209" width="5" height="5" fill="#0f4d27"/>
<rect x="1156" y="210" width="3" height="3" fill="#4caf50"/>
<rect x="1165" y="191" width="1" height="20" fill="#5a5a5a"/>
<rect x="1163" y="209" width="5" height="2" fill="#0f4d27"/>
<rect x="1173" y="180" width="1" height="34" fill="#5a5a5a"/>
<rect x="1171" y="191" width="5" height="19" fill="#0f4d27"/>
<rect x="1172" y="192" width="3" height="17" fill="#4caf50"/>
<rect x="1181" y="189" width="1" height="63" fill="#5a5a5a"/>
<rect x="1179" y="190" width="5" height="61" fill="#5a1409"/>
<rect x="1180" y="191" width="3" height="59" fill="#e45545"/>
<rect x="1189" y="242" width="1" height="28" fill="#5a5a5a"/>
<rect x="1187" y="246" width="5" height="6" fill="#0f4d27"/>
<rect x="1188" y="247" width="3" height="4" fill="#4caf50"/>
<rect x="1198" y="238" width="1" height="18" fill="#5a5a5a"/>
<rect x="1196" y="245" width="5" height="8" fill="#5a1409"/>
<rect x="1197" y="246" width="3" height="6" fill="#e45545"/>
<rect x="1206" y="234" width="1" height="24" fill="#5a5a5a"/>
<rect x="1204" y="240" width="5" height="12" fill="#0f4d27"/>
<rect x="1205" y="241" width="3" height="10" fill="#4caf50"/>
<rect x="1214" y="228" width="1" height="25" fill="#5a5a5a"/>
<rect x="1212" y="240" width="5" height="10" fill="#5a1409"/>
<rect x="1213" y="241" width="3" height="8" fill="#e45545"/>
<rect x="1222" y="240" width="1" height="19" fill="#5a5a5a"/>
<rect x="1220" y="250" width="5" height="3" fill="#5a1409"/>
<rect x="1221" y="251" width="3" height="1" fill="#e45545"/>
<rect x="1230" y="252" width="1" height="34" fill="#5a5a5a"/>
<rect x="1228" y="252" width="5" height="34" fill="#5a1409"/>
<rect x="1229" y="253" width="3" height="32" fill="#e45545"/>
<rect x="1239" y="259" width="1" height="27" fill="#5a5a5a"/>
<rect x="1237" y="272" width="5" height="14" fill="#0f4d27"/>
<rect x="1238" y="273" width="3" height="12" fill="#4caf50"/>
<rect x="1247" y="265" width="1" height="31" fill="#5a5a5a"/>
<rect x="1245" y="271" width="5" height="1" fill="#0f4d27"/>
<rect x="1255" y="262" width="1" height="30" fill="#5a5a5a"/>
<rect x="1253" y="270" width="5" height="6" fill="#5a1409"/>
<rect x="1254" y="271" width="3" height="4" fill="#e45545"/>
<rect x="1263" y="238" width="1" height="41" fill="#5a5a5a"/>
<rect x="1261" y="240" width="5" height="35" fill="#0f4d27"/>
<rect x="1262" y="241" width="3" height="33" fill="#4caf50"/>
<rect x="1271" y="237" width="1" height="14" fill="#5a5a5a"/>
<rect x="1269" y="240" width="5" height="9" fill="#5a1409"/>
<rect x="1270" y="241" width="3" height="7" fill="#e45545"/>
<rect x="1280" y="238" width="1" height="19" fill="#5a5a5a"/>
<rect x="1278" y="244" width="5" height="5" fill="#0f4d27"/>
<rect x="1279" y="245" width="3" height="3" fill="#4caf50"/>
<rect x="1288" y="204" width="1" height="41" fill="#5a5a5a"/>
<rect x="1286" y="204" width="5" height="41" fill="#0f4d27"/>
<rect x="1287" y="205" width="3" height="39" fill="#4caf50"/>
<rect x="1296" y="187" width="1" height="28" fill="#5a5a5a"/>
<rect x="1294" y="205" width="5" height="8" fill="#5a1409"/>
<rect x="1295" y="206" width="3" height="6" fill="#e45545"/>
<rect x="1304" y="202" width="1" height="16" fill="#5a5a5a"/>
<rect x="1302" y="210" width="5" height="2" fill="#0f4d27"/>
<rect x="1312" y="188" width="1" height="25" fill="#5a5a5a"/>
<rect x="1310" y="193" width="5" height="18" fill="#0f4d27"/>
<rect x="1311" y="194" width="3" height="16" fill="#4caf50"/>
<rect x="1321" y="148" width="1" height="52" fill="#5a5a5a"/>
<rect x="1319" y="152" width="5" height="42" fill="#0f4d27"/>
<rect x="1320" y="153" width="3" height="40" fill="#4caf50"/>
<rect x="1329" y="144" width="1" height="20" fill="#5a5a5a"/>
<rect x="1327" y="151" width="5" height="5" fill="#5a1409"/>
<rect x="1328" y="152" width="3" height="3" fill="#e45545"/>
<rect x="1337" y="74" width="1" height="85" fill="#5a5a5a"/>
<rect x="1335" y="78" width="5" height="77" fill="#0f4d27"/>
<rect x="1336" y="79" width="3" height="75" fill="#4caf50"/>
<rect x="1345" y="37" width="1" height="62" fill="#5a5a5a"/>
<rect x="1343" y="65" width="5" height="14" fill="#0f4d27"/>
<rect x="1344" y="66" width="3" height="12" fill="#4caf50"/>
<rect x="1353" y="38" width="1" height="56" fill="#5a5a5a"/>
<rect x="1351" y="59" width="5" height="8" fill="#0f4d27"/>
<rect x="1352" y="60" width="3" height="6" fill="#4caf50"/>
<rect x="1362" y="50" width="1" height="58" fill="#5a5a5a"/>
<rect x="1360" y="59" width="5" height="49" fill="#5a1409"/>
<rect x="1361" y="60" width="3" height="47" fill="#e45545"/>
<rect x="1370" y="98" width="1" height="37" fill="#5a5a5a"/>
<rect x="1368" y="107" width="5" height="26" fill="#5a1409"/>
<rect x="1369" y="108" width="3" height="24" fill="#e45545"/>
<rect x="1378" y="113" width="1" height="22" fill="#5a5a5a"/>
<rect x="1376" y="123" width="5" height="10" fill="#0f4d27"/>
<rect x="1377" y="124" width="3" height="8" fill="#4caf50"/>
<rect x="1386" y="64" width="1" height="60" fill="#5a5a5a"/>
<rect x="1384" y="72" width="5" height="52" fill="#0f4d27"/>
<rect x="1385" y="73" width="3" height="50" fill="#4caf50"/>
<rect x="1394" y="62" width="1" height="25" fill="#5a5a5a"/>
<rect x="1392" y="73" width="5" height="5" fill="#5a1409"/>
<rect x="1393" y="74" width="3" height="3" fill="#e45545"/>
<line x1="4" y1="77.5" x2="1443" y2="77.5" stroke="#e45545" stroke-width="1" stroke-dasharray="1 2"/>
<polyline points="4.0,698.3 23.9,696.9 39.8,698.9 57.8,700.5 65.7,698.3 75.7,700.3 99.6,699.3 107.6,698.5 131.5,699.9 159.4,699.5 179.3,700.5 189.2,699.9 199.2,701.3 219.1,700.9 239.0,700.9 247.0,699.3 262.9,697.9 286.9,698.5 300.0,700.5 312.0,699.9 321.9,699.7 333.9,700.5 343.8,701.7 352.8,702.5 361.8,697.5 369.7,696.9 385.7,698.5 393.6,696.5 403.6,697.9 411.0,698.5 418.9,694.9 427.5,695.9 439.4,696.9 451.4,698.5 467.3,699.9 476.3,700.5 485.3,702.5 493.2,703.4 507.2,703.4 516.1,703.8 525.1,706.2 533.1,706.2 541.0,704.2 550.0,704.8 558.0,703.4 566.9,704.2 574.9,704.4 582.9,705.2 590.8,704.2 600.0,702.3 608.0,704.2 623.9,704.8 639.8,706.2 647.8,704.8 655.8,705.4 665.7,704.4 679.7,706.2 697.6,706.8 709.6,705.8 721.5,703.2 729.5,703.2 747.4,706.2 763.3,706.4 771.3,705.8 779.3,703.8 789.2,703.4 805.2,701.5 813.1,701.9 821.1,703.2 839.0,704.2 853.0,704.4 868.9,706.4 878.9,706.4 892.8,702.8 900.0,702.5 910.0,701.5 923.9,701.9 934.9,703.4 943.8,702.5 951.8,700.5 959.8,701.3 967.7,700.5 975.7,701.5 985.7,702.1 993.6,700.3 1001.6,697.3 1007.6,697.5 1017.5,699.3 1025.5,699.5 1033.5,700.7 1042.4,700.5 1050.4,702.8 1058.4,702.3 1067.3,699.3 1075.3,696.9 1083.3,696.3 1091.2,693.5 1099.2,690.9 1107.2,690.9 1116.1,689.5 1124.1,689.5 1132.1,683.3 1140.0,680.5 1148.0,679.7 1157.0,680.3 1164.9,681.9 1172.9,681.9 1180.9,677.9 1188.8,678.9 1197.8,680.9 1209.8,682.5 1221.7,684.5 1229.7,683.9 1239.6,684.3 1255.6,684.3 1262.5,683.3 1271.5,685.5 1279.5,686.9 1287.5,685.5 1295.4,685.5 1304.4,687.5 1311.8,688.1 1320.3,685.3 1328.7,686.5 1337.3,679.5 1345.2,676.0 1353.2,673.6 1361.8,671.6 1370.1,671.6 1378.1,673.6 1386.1,671.0 1394.0,673.0" fill="none" stroke="#b71c1c" stroke-width="1.1" stroke-linejoin="round" />
<polyline points="4.0,804.4 10.0,798.5 19.9,789.5 29.9,775.6 39.8,773.6 49.8,770.6 57.8,770.6 65.7,763.6 75.7,760.6 83.7,758.2 90.6,754.6 99.6,754.6 107.2,748.3 115.5,751.7 123.5,754.0 131.5,756.2 139.4,757.0 147.4,755.0 157.4,750.7 165.3,755.6 173.3,759.2 181.3,760.2 189.2,756.0 197.2,754.6 205.2,768.6 214.1,778.5 222.1,777.5 230.1,791.5 239.0,799.5 247.0,764.6 255.0,742.7 262.9,734.3 270.9,733.1 279.9,747.3 287.8,744.3 294.8,747.1 300.0,748.3 312.0,744.3 320.9,738.3 328.9,738.7 335.9,739.7 344.8,741.7 352.8,742.7 361.8,749.7 369.7,759.6 377.7,763.6 385.7,767.6 394.6,777.5 402.6,785.1 411.0,785.5 418.9,776.6 427.5,765.6 435.5,767.2 443.8,769.6 451.4,767.0 459.4,764.0 468.3,761.6 476.3,762.6 484.3,764.2 492.2,762.6 500.2,761.6 508.8,762.0 516.7,769.6 525.1,768.0 533.5,767.2 541.6,783.1 550.0,786.5 558.0,779.9 566.3,783.5 574.9,783.5 582.9,785.5 591.2,784.5 600.0,775.0 607.6,773.2 615.5,776.2 623.9,781.1 631.9,780.5 639.8,779.5 647.8,787.5 656.8,785.1 664.7,776.0 673.1,769.2 680.7,769.2 689.0,759.0 697.6,753.6 705.6,758.2 713.9,760.2 721.9,768.6 729.9,782.5 738.4,782.9 746.8,784.5 755.4,776.2 763.3,771.0 770.9,762.2 779.9,778.9 787.8,781.1 796.2,758.6 804.2,744.3 812.5,749.7 821.1,754.2 829.1,758.0 837.1,760.6 845.0,762.2 853.0,769.0 861.4,772.6 869.9,776.2 877.9,768.6 886.3,752.6 894.2,733.7 900.0,733.1 911.0,733.7 919.3,734.3 927.3,739.1 935.9,743.7 943.8,748.3 951.8,744.3 959.8,744.7 967.7,744.7 976.7,748.3 984.7,751.7 993.0,748.3 1001.0,753.0 1009.0,757.6 1017.5,758.2 1025.5,760.6 1033.9,762.6 1041.8,759.0 1050.4,755.0 1058.4,752.6 1066.7,733.7 1074.9,715.8 1083.3,724.8 1091.2,733.3 1099.6,735.1 1107.6,737.3 1116.1,742.7 1124.1,744.7 1132.1,746.1 1140.4,749.1 1149.0,751.3 1157.0,752.6 1164.9,753.6 1173.3,752.6 1180.9,760.0 1189.2,765.2 1197.8,766.2 1206.2,766.2 1214.1,768.2 1222.1,773.6 1230.1,785.5 1238.6,784.1 1247.0,785.1 1255.0,783.5 1263.1,772.6 1271.5,769.2 1279.9,769.0 1287.5,758.2 1296.0,751.3 1304.0,752.6 1312.4,747.1 1320.7,738.1 1328.7,737.3 1336.9,728.3 1344.8,729.7 1353.2,737.7 1361.8,745.3 1370.1,752.6 1378.1,754.6 1386.1,750.7 1394.0,750.7" fill="none" stroke="#2962ff" stroke-width="1.1" stroke-linejoin="round" />
</svg>
<div style="position:absolute;left:1443px;top:4px;width:1px;height:829px;background:#3a3a3a"></div>
<div style="position:absolute;left:4px;top:805px;width:1499px;height:1px;background:#3a3a3a"></div>
<div class="ax" style="top:51.7px">32.000</div>
<div class="ax" style="top:91.6px">31.000</div>
<div class="ax" style="top:131.6px">30.000</div>
<div class="ax" style="top:171.5px">29.000</div>
<div class="ax" style="top:211.4px">28.000</div>
<div class="ax" style="top:251.3px">27.000</div>
<div class="ax" style="top:291.3px">26.000</div>
<div class="ax" style="top:331.2px">25.000</div>
<div class="ax" style="top:371.1px">24.000</div>
<div class="ax" style="top:411.0px">23.000</div>
<div class="ax" style="top:451.0px">22.000</div>
<div class="ax" style="top:490.9px">21.000</div>
<div class="ax" style="top:530.8px">20.000</div>
<div class="ax" style="top:570.8px">19.000</div>
<div class="ax" style="top:610.7px">18.000</div>
<div class="ax" style="top:650.6px">17.000</div>
<div style="position:absolute;left:1444px;top:669px;width:59px;height:41px;overflow:hidden"><div class="ax" style="left:7px;top:-4.5px">1.000</div><div class="ax" style="left:7px;top:28.5px">0.500</div></div>
<div class="ax" style="top:728.5px">200.00</div>
<div class="ax" style="top:759.5px">0.00</div>
<div class="ax" style="top:790.5px">−200.00</div>
<div class="lv" style="top:138px">29.798</div>
<div class="lv" style="top:292px">25.927</div>
<div class="lv" style="top:451px">21.949</div>
<div class="lv" style="top:502px">20.659</div>
<div class="tm" style="left:75.5px">16</div>
<div class="tm" style="left:173.5px">Nov</div>
<div class="tm" style="left:255.5px">15</div>
<div class="tm" style="left:353.5px">Dec</div>
<div class="tm" style="left:444.5px">18</div>
<div class="tm" style="left:525.5px"><b>2024</b></div>
<div class="tm" style="left:607.5px">15</div>
<div class="tm" style="left:714.5px">Feb</div>
<div class="tm" style="left:796.5px">15</div>
<div class="tm" style="left:886.5px">Mar</div>
<div class="tm" style="left:976.5px">18</div>
<div class="tm" style="left:1058.5px">Apr</div>
<div class="tm" style="left:1140.5px">15</div>
<div class="tm" style="left:1239.5px">May</div>
<div class="tm" style="left:1345.5px">20</div>
<div class="tm" style="left:1427.5px">Jun</div>
<div style="position:absolute;left:1447px;top:8px;width:52px;height:26px;box-sizing:border-box;border:1px solid #e0e3eb;border-radius:4px;background:#fff"></div>
<div class="t" style="left:1451.3px;top:15px;font-size:12px;color:#131722;letter-spacing:-0.6px;transform:scaleX(0.88);transform-origin:left center">USD</div>
<svg style="position:absolute;left:1486px;top:17px" width="10" height="8" viewBox="0 0 10 8"><path d="M2.5 3.2 L5.4 5.9 L8.3 3.2" fill="none" stroke="#131722" stroke-width="1.3"/></svg>
<svg style="position:absolute;left:1463px;top:810px" width="22" height="20" viewBox="1463 810 22 20"><path d="M1466 819.5 L1469.7 813.5 H1477 L1480.7 819.5 L1477 825.5 H1469.7 Z" fill="#fff" stroke="#131722" stroke-width="1.2" stroke-linejoin="round"/><circle cx="1473.3" cy="819.5" r="1.9" fill="none" stroke="#131722" stroke-width="1.2"/></svg>
<svg style="position:absolute;left:13px;top:11px" width="18" height="18" viewBox="0 0 18 18"><circle cx="9" cy="9" r="9" fill="#a9a7b8"/><path d="M6.9 5.1 H11 L12.2 7.7 H5.7 Z M3.3 8.9 H7.4 L8.4 12 H2.1 Z M10.5 8.9 H14.6 L15.8 12 H9.5 Z" fill="#fff"/></svg>
<div class="t" id="title" style="left:35.6px;top:12.3px;font-size:16px;color:#444;transform:scaleX(0.929);transform-origin:left center">CFDs on Silver (US$ / OZ) · 1D · TVC</div>
<div style="position:absolute;left:302px;top:11.5px;width:17px;height:17px;border-radius:50%;background:#d5f0ea"></div>
<div style="position:absolute;left:306.5px;top:16px;width:8px;height:8px;border-radius:50%;background:#089981"></div>
<div class="t " style="left:336.2px;top:14px;font-size:13px;letter-spacing:0">O</div>
<div class="t v" style="left:346px;top:14px;font-size:13px;letter-spacing:-0.2px">31.607</div>
<div class="t " style="left:391.5px;top:14px;font-size:13px;letter-spacing:0">H</div>
<div class="t v" style="left:399.8px;top:14px;font-size:13px;letter-spacing:-0.2px">31.880</div>
<div class="t " style="left:446px;top:14px;font-size:13px;letter-spacing:0">L</div>
<div class="t v" style="left:452.7px;top:14px;font-size:13px;letter-spacing:-0.2px">31.254</div>
<div class="t " style="left:498.4px;top:14px;font-size:13px;letter-spacing:0">C</div>
<div class="t v" style="left:507px;top:14px;font-size:13px;letter-spacing:-0.2px">31.524</div>
<div class="t v" style="left:552.4px;top:14px;font-size:13px;letter-spacing:-0.2px">−0.116</div>
<div class="t v" style="left:595.4px;top:14px;font-size:13px;letter-spacing:-0.6px">(−0.37%)</div>
<div class="box" style="left:12px;width:54px;border-color:#f23645;color:#f23645">31.52<sup>8</sup></div>
<div class="t" style="left:74.5px;top:43px;font-size:11px;color:#333">1.9</div>
<div class="box" style="left:97px;width:54px;border-color:#2962ff;color:#2962ff">31.54<sup>7</sup></div>
<div class="t" id="ma" style="left:13px;top:71px;font-size:12px;color:#4a4a4a;letter-spacing:0.065px">MA Ribbon SMA close 20 SMA close 50 SMA close 100 SMA close 200</div>
<div class="t" style="left:404.5px;top:71px;font-size:12px;color:#f23645;letter-spacing:0.15px">29.199</div>
<div class="t" style="left:449.5px;top:71px;font-size:12px;color:#2962ff;letter-spacing:0.15px">27.741</div>
<div class="t" style="left:494.5px;top:71px;font-size:12px;color:#444">∅</div>
<div class="t" style="left:508.5px;top:71px;font-size:12px;color:#111;letter-spacing:0.15px">24.370</div>
<div style="position:absolute;left:13px;top:90px;width:29px;height:21px;box-sizing:border-box;border:1px solid #d1d4dc;border-radius:3px;background:#fff"></div>
<svg style="position:absolute;left:21px;top:95px" width="13" height="10" viewBox="0 0 13 10"><path d="M2.5 7.2 L6.5 3.2 L10.5 7.2" fill="none" stroke="#131722" stroke-width="1.4"/></svg>
<div class="t" id="atr" style="left:13px;top:679.5px;font-size:12px;color:#4a4a4a;letter-spacing:-0.31px">ATR 14 RMA</div>
<div class="t" style="left:88.5px;top:679.5px;font-size:12px;color:#b71c1c;letter-spacing:0.3px">0.953</div>
<div class="t" id="cci" style="left:13px;top:721.5px;font-size:12px;color:#444">CCI 20 hlc3 SMA 5</div>
<div class="t" style="left:123px;top:721.5px;font-size:12px;color:#2962ff;letter-spacing:0.3px">95.87</div>
<svg style="position:absolute;left:10px;top:770px" width="44" height="26" viewBox="10 770 44 26"><g fill="#fff" stroke="#fff" stroke-width="4" stroke-linejoin="round"><path d="M16 776.1 H27.9 V790.8 H22 V782.1 H16 Z"/><circle cx="32.9" cy="778.9" r="2.9"/><path d="M39.5 776.1 H45.7 L39.7 790.8 H33.2 Z"/></g><g fill="#131722"><path d="M16 776.1 H27.9 V790.8 H22 V782.1 H16 Z"/><circle cx="32.9" cy="778.9" r="2.9"/><path d="M39.5 776.1 H45.7 L39.7 790.8 H33.2 Z"/></g></svg>
<svg id="wm1" style="position:absolute;left:1230px;top:720px;overflow:visible" width="276" height="100" viewBox="1230 720 276 100"><defs><filter id="wsh" x="-5%" y="-15%" width="112%" height="135%"><feOffset in="SourceAlpha" dx="2" dy="2" result="o"/><feGaussianBlur in="o" stdDeviation="0.8" result="b"/><feComposite in="b" in2="SourceAlpha" operator="out" result="sh"/><feComponentTransfer in="sh" result="sh2"><feFuncA type="linear" slope="0.62"/></feComponentTransfer><feComponentTransfer in="SourceGraphic" result="sg"><feFuncA type="linear" slope="0.8"/></feComponentTransfer><feMerge><feMergeNode in="sh2"/><feMergeNode in="sg"/></feMerge></filter></defs><text x="1254" y="790.5" transform="translate(1253,794) skewX(-13) translate(-1253,-794)" font-family="'Noto Sans CJK SC','WenQuanYi Zen Hei',sans-serif" font-weight="900" font-size="57.5" letter-spacing="4" fill="#fbfcff" filter="url(#wsh)">海马财经</text></svg>
<div class="t" id="wm2" style="left:1271px;top:803.5px;font-size:29px;font-weight:bold;font-style:italic;font-family:'DejaVu Sans',sans-serif;color:rgba(138,200,255,0.92);text-shadow:1.5px 1.5px 0.5px rgba(110,125,170,0.7);letter-spacing:9.6px">zzrt0<span style="letter-spacing:5px">1</span>.cn</div>
</body>
</html>
